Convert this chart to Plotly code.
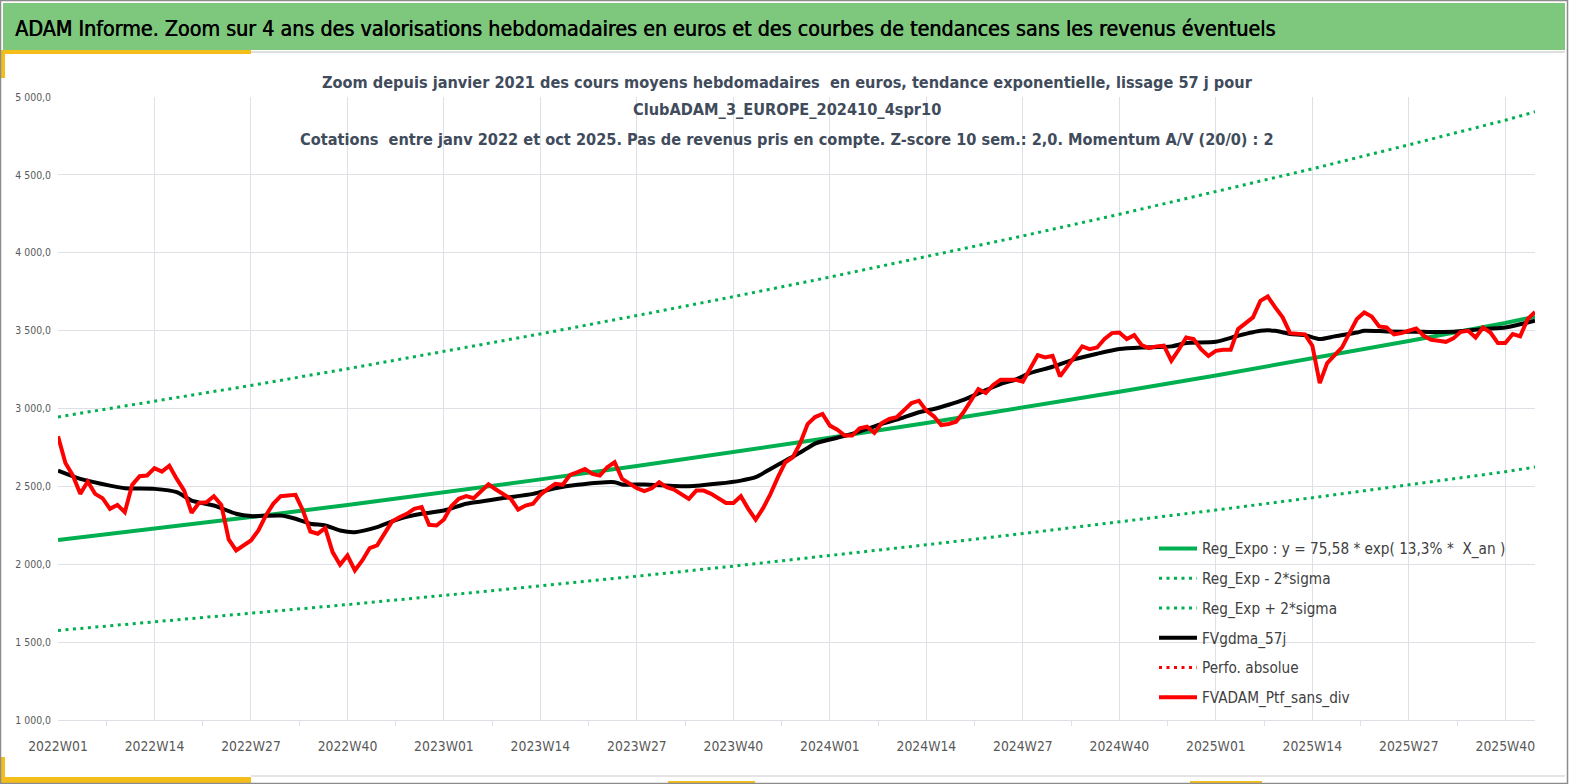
import plotly.graph_objects as go

# x axis = week index, 0 = 2022W01 ... 199 = 2025W44
tick_labels = ["2022W01", "2022W14", "2022W27", "2022W40",
               "2023W01", "2023W14", "2023W27", "2023W40",
               "2024W01", "2024W14", "2024W27", "2024W40",
               "2025W01", "2025W14", "2025W27", "2025W40"]
tick_weeks = list(range(0, 196, 13))

# FVADAM_Ptf_sans_div, one value per week
ptf_sans_div = [
    2822, 2650, 2570, 2452, 2531, 2452, 2424, 2356, 2381, 2334,
    2510, 2565, 2570, 2617, 2595, 2633, 2548, 2473, 2330, 2394,
    2398, 2437, 2381, 2159, 2089, 2121, 2153, 2217, 2313, 2388,
    2437, 2441, 2446, 2345, 2210, 2196, 2232, 2078, 1997, 2056,
    1960, 2024, 2104, 2121, 2196, 2274, 2302, 2324, 2356, 2367,
    2253, 2249, 2287, 2373, 2420, 2437, 2424, 2470, 2513, 2480,
    2452, 2420, 2351, 2377, 2388, 2446, 2484, 2516, 2510, 2574,
    2591, 2612, 2580, 2569, 2623, 2655, 2548, 2516, 2488, 2469,
    2488, 2527, 2495, 2480, 2452, 2420, 2473, 2473, 2452, 2424,
    2394, 2394, 2437, 2356, 2287, 2360, 2452, 2559, 2655, 2687,
    2778, 2900, 2945, 2965, 2890, 2864, 2826, 2826, 2873, 2883,
    2843, 2907, 2933, 2944, 2986, 3035, 3050, 2986, 2950, 2894,
    2901, 2915, 2976, 3056, 3125, 3099, 3151, 3185, 3185, 3185,
    3172, 3253, 3343, 3328, 3338, 3206, 3271, 3328, 3399, 3381,
    3392, 3446, 3484, 3488, 3446, 3471, 3407, 3388, 3399, 3403,
    3307, 3377, 3456, 3446, 3381, 3338, 3370, 3377, 3377, 3510,
    3548, 3585, 3691, 3719, 3649, 3585, 3484, 3478, 3476, 3403,
    3163, 3292, 3343, 3392, 3484, 3574, 3617, 3591, 3527, 3520,
    3476, 3484, 3499, 3514, 3467, 3441, 3435, 3428, 3450, 3492,
    3499, 3456, 3520, 3488, 3420, 3420, 3478, 3463, 3574, 3620,
]

# FVgdma_57j (smoothed), read at these weeks
gdma_weeks = [0, 3, 7, 9, 13, 16, 18, 21, 24, 26, 30, 32, 34, 36, 38,
              40, 43, 46, 49, 52, 55, 57, 60, 64, 67, 70, 75, 76, 79, 85,
              89, 92, 94, 96, 98, 100, 102, 105, 107, 109, 111, 113, 116, 118, 120,
              122, 125, 127, 129, 131, 134, 137, 140, 143, 146, 150, 152, 156, 159, 162,
              164, 166, 168, 170, 172, 175, 176, 179, 184, 188, 192, 195, 197, 199]
gdma_57j = [2601, 2548, 2505, 2488, 2484, 2463, 2409, 2377, 2324, 2309, 2313, 2292, 2260, 2249, 2217,
            2206, 2238, 2292, 2324, 2345, 2388, 2403, 2425, 2452, 2488, 2510, 2527, 2512, 2512, 2501,
            2518, 2537, 2559, 2612, 2665, 2717, 2775, 2812, 2837, 2869, 2901, 2928, 2976, 2997, 3024,
            3055, 3118, 3157, 3186, 3228, 3268, 3317, 3352, 3382, 3392, 3399, 3420, 3428, 3467, 3499,
            3499, 3478, 3471, 3446, 3463, 3488, 3499, 3495, 3492, 3492, 3510, 3520, 3541, 3563]

# exponential trend and +/- 2 sigma bands
trend_weeks = [0, 13, 26, 39, 52, 65, 78, 91, 104, 117, 130, 143, 156, 169, 182, 195, 199]
reg_expo = [2155, 2228, 2303, 2381, 2462, 2545, 2631, 2720, 2812, 2907, 3005, 3107, 3212, 3320, 3433, 3549, 3590]
reg_minus = [1575, 1629, 1683, 1741, 1800, 1860, 1923, 1988, 2056, 2125, 2197, 2271, 2348, 2427, 2509, 2594, 2624]
reg_plus = [2946, 3046, 3148, 3255, 3366, 3479, 3597, 3718, 3844, 3974, 4108, 4247, 4391, 4539, 4693, 4851, 4905]
perfo_absolue = [None]

NARROW = "Liberation Sans Narrow, Arial Narrow, DejaVu Sans Condensed, sans-serif"
GREEN = "#00B050"
GRID = "#DDE0E5"
TXT = "#595959"
YELLOW = "#F4BE1A"

# plot area in pixels, used to place the decorations
L, R, T, B = 58, 1535, 97, 720


def px(x):
    return (x - L) / (R - L)


def py(y):
    return (B - y) / (B - T)


def box(x0, x1, y0, y1, **kw):
    return dict(type="rect", xref="paper", yref="paper",
                x0=px(x0), x1=px(x1), y0=py(y0), y1=py(y1), **kw)


fig = go.Figure()
fig.add_trace(go.Scatter(x=trend_weeks, y=reg_expo, mode="lines", legendgroup="1",
                         name="Reg_Expo : y = 75,58 * exp( 13,3% *  X_an )",
                         line=dict(color=GREEN, width=4)))
fig.add_trace(go.Scatter(x=trend_weeks, y=reg_minus, mode="lines", legendgroup="2",
                         name="Reg_Exp - 2*sigma",
                         line=dict(color=GREEN, width=3, dash="3px,4.5px")))
fig.add_trace(go.Scatter(x=trend_weeks, y=reg_plus, mode="lines", legendgroup="3",
                         name="Reg_Exp + 2*sigma",
                         line=dict(color=GREEN, width=3, dash="3px,4.5px")))
fig.add_trace(go.Scatter(x=gdma_weeks, y=gdma_57j, mode="lines", legendgroup="4",
                         name="FVgdma_57j",
                         line=dict(color="black", width=4, shape="spline", smoothing=0.6)))
fig.add_trace(go.Scatter(x=perfo_absolue, y=perfo_absolue, mode="lines", legendgroup="5",
                         name="Perfo. absolue",
                         line=dict(color="#FF0000", width=3, dash="3px,4.5px")))
fig.add_trace(go.Scatter(x=list(range(len(ptf_sans_div))), y=ptf_sans_div, mode="lines",
                         legendgroup="6", name="FVADAM_Ptf_sans_div",
                         line=dict(color="#FF0000", width=4)))

shapes = [
    # header band
    box(3, 1565, 3, 50, fillcolor="#7EC87E", line=dict(width=0), layer="below"),
    dict(type="line", xref="paper", yref="paper", x0=px(251), x1=px(1565), y0=py(52), y1=py(52),
         line=dict(color="#D4D4D4", width=1.5)),
    # yellow accents
    box(0, 251, 50, 54, fillcolor=YELLOW, line=dict(width=0)),
    box(0, 5, 50, 78, fillcolor=YELLOW, line=dict(width=0)),
    dict(type="line", xref="paper", yref="paper", x0=px(251), x1=px(1565), y0=py(776), y1=py(776),
         line=dict(color="#E4E4E4", width=2)),
    box(0, 251, 777, 784, fillcolor=YELLOW, line=dict(width=0)),
    box(0, 5, 757, 784, fillcolor=YELLOW, line=dict(width=0)),
    box(668, 755, 781, 784, fillcolor=YELLOW, line=dict(width=0)),
    box(1190, 1262, 781, 784, fillcolor=YELLOW, line=dict(width=0)),
    # outer frame
    box(0.5, 1567.5, 0.5, 783.5, line=dict(color="#8C8C8C", width=1.5)),
]

title_lines = [
    "Zoom depuis janvier 2021 des cours moyens hebdomadaires  en euros, tendance exponentielle, lissage 57 j pour",
    "ClubADAM_3_EUROPE_202410_4spr10",
    "Cotations  entre janv 2022 et oct 2025. Pas de revenus pris en compte. Z-score 10 sem.: 2,0. Momentum A/V (20/0) : 2",
]
annotations = [
    dict(text="ADAM Informe. Zoom sur 4 ans des valorisations hebdomadaires en euros et des courbes de tendances sans les revenus éventuels",
         xref="paper", yref="paper", x=px(13), y=py(28), xanchor="left", yanchor="middle",
         showarrow=False,
         font=dict(family=NARROW, size=21.3, color="black", shadow="0.6px 0px 0px black")),
]
for line_text, ypix in zip(title_lines, [82, 110, 139]):
    annotations.append(dict(text="<b>" + line_text + "</b>", xref="paper", yref="paper",
                            x=px(787), y=py(ypix), xanchor="center", yanchor="middle",
                            showarrow=False, font=dict(family=NARROW, size=16.2, color="#404B5B")))

fig.update_layout(
    width=1569, height=784,
    margin=dict(l=L, r=1569 - R, t=T, b=784 - B, autoexpand=False),
    paper_bgcolor="white", plot_bgcolor="white",
    separators=", ",
    showlegend=True,
    legend=dict(x=px(1154), y=py(532), xanchor="left", yanchor="top",
                bgcolor="rgba(0,0,0,0)", itemwidth=38, tracegroupgap=7,
                traceorder="grouped",
                font=dict(family=NARROW, size=15.2, color="#404040")),
    shapes=shapes,
    annotations=annotations,
    xaxis=dict(range=[0, 199], tickmode="array", tickvals=tick_weeks, ticktext=tick_labels,
               automargin=False,
               showgrid=True, gridcolor=GRID, gridwidth=1, zeroline=False,
               showline=True, linecolor=GRID, ticks="", ticklabelstandoff=13,
               tickfont=dict(family=NARROW, size=13.8, color=TXT),
               minor=dict(tickmode="array", tickvals=[w + 6.5 for w in tick_weeks],
                          ticks="outside", ticklen=5, tickcolor=GRID, showgrid=False)),
    yaxis=dict(range=[1000, 5000], tick0=1000, dtick=500, tickformat=",.1f",
               automargin=False,
               showgrid=True, gridcolor=GRID, gridwidth=1, zeroline=False,
               showline=False, ticks="", ticklabelstandoff=6,
               tickfont=dict(family=NARROW, size=10.4, color=TXT)),
)

# the page has a default 8px body margin; drop it so the figure sits at the top-left corner
fig.write_html("out.html", config={"displayModeBar": False},
               post_script="document.body.style.margin = '0px';")
